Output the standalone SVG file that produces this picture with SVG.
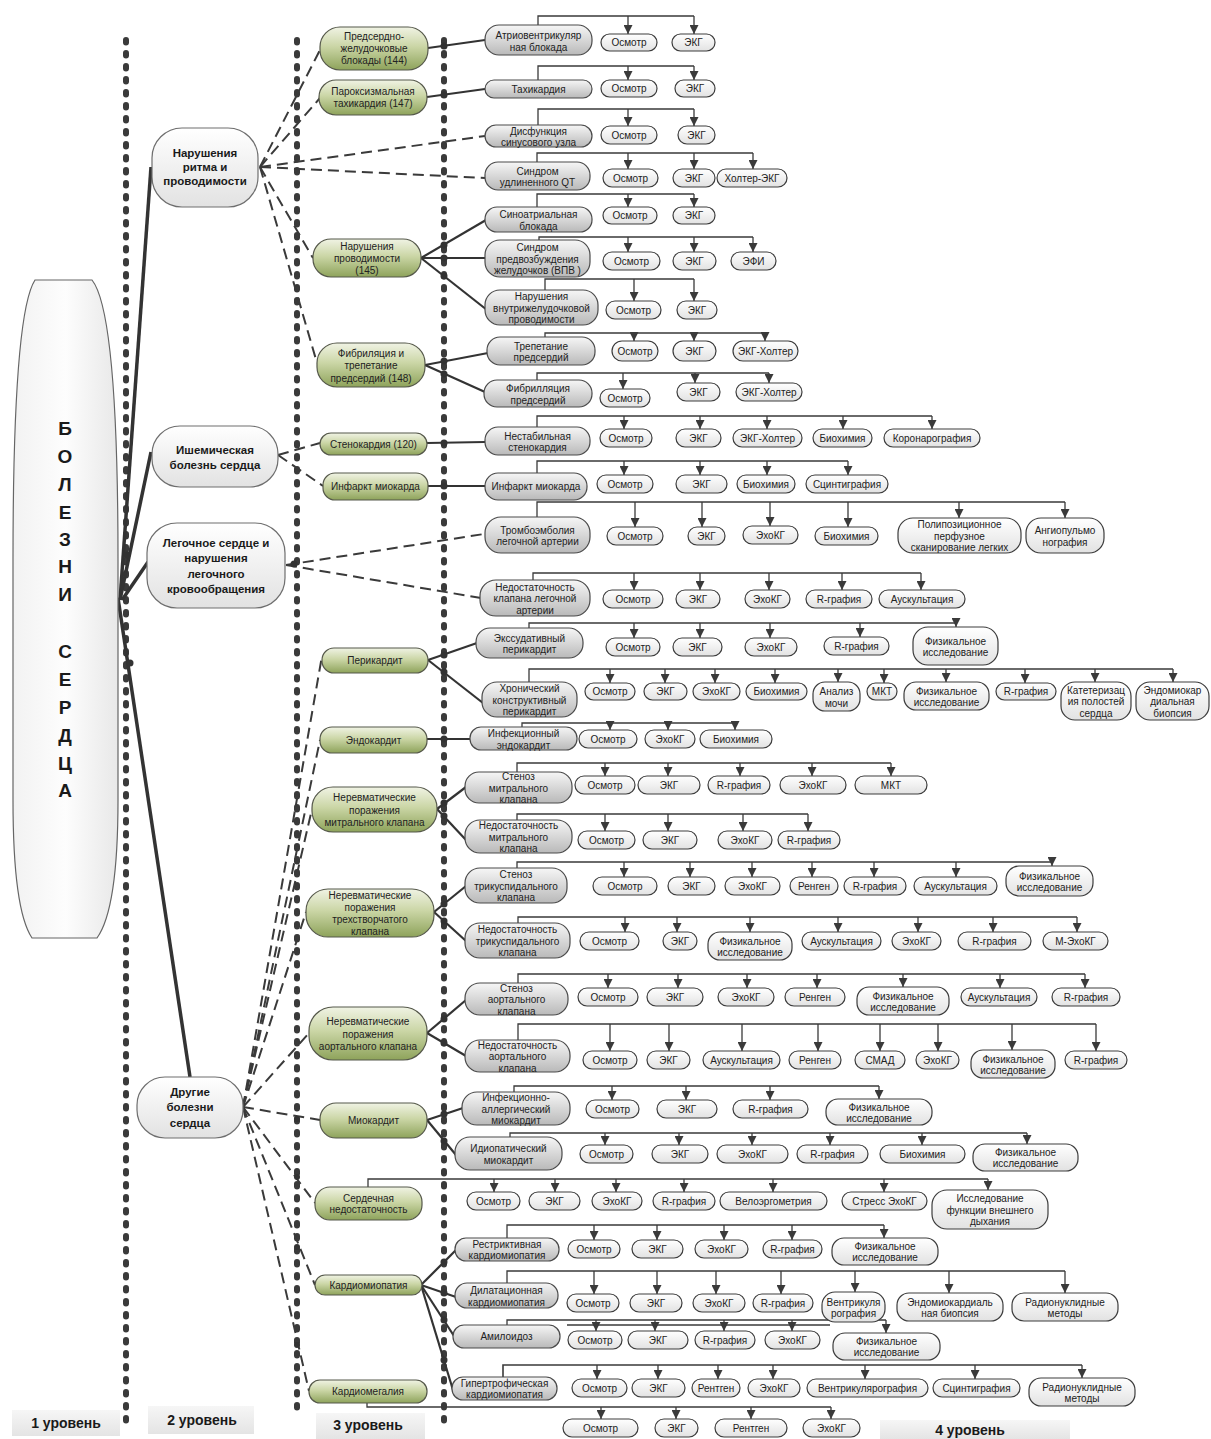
<svg xmlns="http://www.w3.org/2000/svg" width="1211" height="1439" viewBox="0 0 1211 1439">
<style>
.s{font-family:"Liberation Sans",Arial,sans-serif;font-size:10px;fill:#222;text-anchor:middle;dominant-baseline:central}
.b{font-weight:bold;font-size:11.5px;fill:#1a1a1a}
.lv{font-weight:bold;font-size:14px;fill:#1a1a1a}
.big{font-weight:bold;font-size:19px;fill:#1a1a1a}
.t{fill:url(#gTest);stroke:#3c3c3c;stroke-width:1.2}
.d{fill:url(#gDz);stroke:#4a4a4a;stroke-width:1.2}
.g{fill:url(#gL3);stroke:#55584a;stroke-width:1.2}
.w{fill:url(#gL2);stroke:#6e6e6e;stroke-width:1.2}
.lb{fill:url(#gLbl);stroke:none}
.br{fill:none;stroke:#3a3a3a;stroke-width:1.3}
.ar{fill:none;stroke:#3a3a3a;stroke-width:1.3;marker-end:url(#arr)}
.sl{fill:none;stroke:#333;stroke-width:2.2}
.dl{fill:none;stroke:#3a3a3a;stroke-width:2;stroke-dasharray:11 6}
.th{fill:none;stroke:#333;stroke-width:3.5}
.dot{fill:#333}
.vd{fill:none;stroke:#3a3a3a;stroke-width:6;stroke-linecap:round;stroke-dasharray:2.5 10.5}
</style>
<defs>
<linearGradient id="gTest" x1="0" y1="0" x2="0" y2="1"><stop offset="0" stop-color="#ffffff"/><stop offset="1" stop-color="#e2e2e2"/></linearGradient>
<linearGradient id="gDz" x1="0" y1="0" x2="0" y2="1"><stop offset="0" stop-color="#f6f6f6"/><stop offset="1" stop-color="#b9b9b9"/></linearGradient>
<linearGradient id="gL3" x1="0" y1="0" x2="0" y2="1"><stop offset="0" stop-color="#f0f3e4"/><stop offset="0.45" stop-color="#cbd6a6"/><stop offset="1" stop-color="#8ea35b"/></linearGradient>
<linearGradient id="gL2" x1="0" y1="0" x2="0" y2="1"><stop offset="0" stop-color="#ffffff"/><stop offset="1" stop-color="#e2e2e2"/></linearGradient>
<linearGradient id="gL1" x1="0" y1="0" x2="1" y2="0"><stop offset="0" stop-color="#f2f2f2"/><stop offset="0.5" stop-color="#fdfdfd"/><stop offset="1" stop-color="#e8e8e8"/></linearGradient>
<linearGradient id="gLbl" x1="0" y1="0" x2="0" y2="1"><stop offset="0" stop-color="#f6f6f6"/><stop offset="1" stop-color="#e4e4e4"/></linearGradient>
<marker id="arr" markerUnits="userSpaceOnUse" markerWidth="10" markerHeight="9" refX="9" refY="4.5" orient="auto"><path d="M0,0 L9,4.5 L0,9 z" fill="#3a3a3a"/></marker>
</defs>
<rect width="1211" height="1439" fill="#fff"/>

<!-- level separators -->
<g id="guides">
<path class="vd" d="M126 40V1430"/>
<path class="vd" d="M297 40V1418"/>
<path class="vd" d="M444 40V1430"/>
</g>

<!-- level captions -->
<g id="cap1"><rect class="lb" x="12" y="1410" width="108" height="26"/><text class="s lv" x="66" y="1423">1 уровень</text></g>
<g id="cap2"><rect class="lb" x="148" y="1406" width="106" height="28"/><text class="s lv" x="202" y="1420">2 уровень</text></g>
<g id="cap3"><rect class="lb" x="316" y="1413" width="109" height="26"/><text class="s lv" x="368" y="1425">3 уровень</text></g>
<g id="cap4"><rect class="lb" x="880" y="1420" width="190" height="19"/><text class="s lv" x="970" y="1430">4 уровень</text></g>

<g id="connectors">
<!-- level 1 to level 2 -->
<path class="th" d="M120 600L151 167"/>
<path class="th" d="M120 600L151 452"/>
<path class="th" d="M122 600L148 562"/>
<path class="th" d="M118 598L190 1077"/>
<circle class="dot" cx="127" cy="555" r="3.5"/>
<circle class="dot" cx="130" cy="663" r="3.5"/>
<!-- level 2 to level 3 -->
<path class="dl" d="M260 167L320 50"/>
<path class="dl" d="M260 167L320 98"/>
<path class="dl" d="M260 167L485 136"/>
<path class="dl" d="M260 167L485 178"/>
<path class="dl" d="M260 167L313 258"/>
<path class="dl" d="M260 167L317 363"/>
<path class="dl" d="M278 455L320 443"/>
<path class="dl" d="M278 455L323 486"/>
<path class="dl" d="M286 565L484 534"/>
<path class="dl" d="M286 565L481 598"/>
<circle class="dot" cx="294" cy="564" r="3.5"/>
<path class="dl" d="M243 1107L322 656"/>
<path class="dl" d="M243 1107L320 740"/>
<path class="dl" d="M243 1107L312 809"/>
<path class="dl" d="M243 1107L306 912"/>
<path class="dl" d="M243 1107L309 1033"/>
<path class="dl" d="M243 1107L320 1120"/>
<path class="dl" d="M243 1107L315 1203"/>
<path class="dl" d="M243 1107L315 1285"/>
<path class="dl" d="M243 1107L309 1391"/>
<circle class="dot" cx="297" cy="1119" r="3"/>
<circle class="dot" cx="297" cy="1177" r="3"/>
<circle class="dot" cx="297" cy="1247" r="3"/>
<circle class="dot" cx="297" cy="1345" r="3"/>
<!-- level 3 to diseases -->
<path class="sl" d="M428 48L485 40"/><circle class="dot" cx="444" cy="46" r="3.5"/>
<path class="sl" d="M427 97L485 89"/><circle class="dot" cx="444" cy="95" r="3.5"/>
<path class="sl" d="M421 258L486 220"/><circle class="dot" cx="444" cy="245" r="3.5"/>
<path class="sl" d="M421 258L485 258"/><circle class="dot" cx="444" cy="258" r="3.5"/>
<path class="sl" d="M421 258L487 310"/><circle class="dot" cx="444" cy="276" r="3.5"/>
<path class="sl" d="M425 365L488 353"/><circle class="dot" cx="444" cy="361" r="3.5"/>
<path class="sl" d="M425 365L485 392"/><circle class="dot" cx="444" cy="374" r="3.5"/>
<path class="sl" d="M427 443L485 442"/><circle class="dot" cx="444" cy="443" r="3.5"/>
<path class="sl" d="M428 486L485 486"/><circle class="dot" cx="444" cy="486" r="3.5"/>
<path class="sl" d="M428 660L477 643"/><circle class="dot" cx="444" cy="655" r="3.5"/>
<path class="sl" d="M428 660L483 703"/><circle class="dot" cx="444" cy="672" r="3.5"/>
<path class="sl" d="M427 739L470 739"/><circle class="dot" cx="444" cy="739" r="3.5"/>
<path class="sl" d="M437 809L466 787"/><circle class="dot" cx="444" cy="803" r="3.5"/>
<path class="sl" d="M437 809L466 840"/><circle class="dot" cx="444" cy="816" r="3.5"/>
<path class="sl" d="M434 912L466 886"/><circle class="dot" cx="444" cy="904" r="3.5"/>
<path class="sl" d="M434 912L466 941"/><circle class="dot" cx="444" cy="921" r="3.5"/>
<path class="sl" d="M427 1033L466 1000"/><circle class="dot" cx="444" cy="1019" r="3.5"/>
<path class="sl" d="M427 1033L466 1056"/><circle class="dot" cx="444" cy="1043" r="3.5"/>
<path class="sl" d="M427 1120L463 1108"/><circle class="dot" cx="444" cy="1114" r="3.5"/>
<path class="sl" d="M427 1120L456 1155"/><circle class="dot" cx="444" cy="1141" r="3.5"/>
<path class="sl" d="M421 1285L456 1250"/><circle class="dot" cx="444" cy="1262" r="3.5"/>
<path class="sl" d="M421 1285L456 1297"/><circle class="dot" cx="444" cy="1293" r="3.5"/>
<path class="sl" d="M421 1285L454 1336"/><circle class="dot" cx="444" cy="1320" r="3.5"/>
<path class="sl" d="M421 1285L453 1390"/><circle class="dot" cx="444" cy="1360" r="3.5"/>
<!-- diseases to examinations -->
<path class="br" d="M538 25V16H694"/><path class="ar" d="M628 16V34"/><path class="ar" d="M694 16V34"/>
<path class="br" d="M538 80V66H694"/><path class="ar" d="M628 66V80"/><path class="ar" d="M694 66V80"/>
<path class="br" d="M538 125V109H694"/><path class="ar" d="M628 109V126"/><path class="ar" d="M694 109V126"/>
<path class="br" d="M537 162V153H753"/><path class="ar" d="M628 153V169"/><path class="ar" d="M694 153V169"/><path class="ar" d="M753 153V169"/>
<path class="br" d="M537 207V194H694"/><path class="ar" d="M628 194V207"/><path class="ar" d="M694 194V207"/>
<path class="br" d="M539 240V237H753"/><path class="ar" d="M628 237V252"/><path class="ar" d="M694 237V252"/><path class="ar" d="M753 237V252"/>
<path class="br" d="M545 290V279H694"/><path class="ar" d="M634 279V301"/><path class="ar" d="M694 279V301"/>
<path class="br" d="M545 337V333H765"/><path class="ar" d="M634 333V341"/><path class="ar" d="M694 333V341"/><path class="ar" d="M765 333V341"/>
<path class="br" d="M537 380V373H769"/><path class="ar" d="M623 373V389"/><path class="ar" d="M695 373V383"/><path class="ar" d="M769 373V383"/>
<path class="br" d="M537 427V416H932"/><path class="ar" d="M624 416V429"/><path class="ar" d="M700 416V429"/><path class="ar" d="M767 416V429"/><path class="ar" d="M843 416V429"/><path class="ar" d="M932 416V429"/>
<path class="br" d="M537 473V461H848"/><path class="ar" d="M624 461V475"/><path class="ar" d="M700 461V475"/><path class="ar" d="M767 461V475"/><path class="ar" d="M848 461V475"/>
<path class="br" d="M537 517V502H1065"/><path class="ar" d="M635 502V527"/><path class="ar" d="M702 502V527"/><path class="ar" d="M770 502V526"/><path class="ar" d="M848 502V527"/><path class="ar" d="M959 502V518"/><path class="ar" d="M1065 502V518"/>
<path class="br" d="M533 580V573H921"/><path class="ar" d="M634 573V590"/><path class="ar" d="M700 573V590"/><path class="ar" d="M769 573V590"/><path class="ar" d="M842 573V590"/><path class="ar" d="M921 573V590"/>
<path class="br" d="M529 628V623H956"/><path class="ar" d="M634 623V638"/><path class="ar" d="M700 623V638"/><path class="ar" d="M770 623V638"/><path class="ar" d="M860 623V637"/><path class="ar" d="M956 623V627"/>
<path class="br" d="M529 682V669H1173"/><path class="ar" d="M610 669V683"/><path class="ar" d="M665 669V683"/><path class="ar" d="M715 669V683"/><path class="ar" d="M775 669V683"/><path class="ar" d="M838 669V682"/><path class="ar" d="M884 669V683"/><path class="ar" d="M946 669V682"/><path class="ar" d="M1025 669V683"/><path class="ar" d="M1095 669V682"/><path class="ar" d="M1173 669V682"/>
<path class="br" d="M522 727V723H735"/><path class="ar" d="M610 723V730"/><path class="ar" d="M668 723V730"/><path class="ar" d="M735 723V730"/>
<path class="br" d="M517 772V763H891"/><path class="ar" d="M605 763V776"/><path class="ar" d="M668 763V776"/><path class="ar" d="M740 763V776"/><path class="ar" d="M812 763V776"/><path class="ar" d="M891 763V776"/>
<path class="br" d="M517 820V814H808"/><path class="ar" d="M605 814V831"/><path class="ar" d="M668 814V831"/><path class="ar" d="M743 814V831"/><path class="ar" d="M808 814V831"/>
<path class="br" d="M517 868V862H1052"/><path class="ar" d="M624 862V877"/><path class="ar" d="M690 862V877"/><path class="ar" d="M752 862V877"/><path class="ar" d="M812 862V877"/><path class="ar" d="M874 862V877"/><path class="ar" d="M956 862V877"/><path class="ar" d="M1052 862V866"/>
<path class="br" d="M518 923V917H1077"/><path class="ar" d="M625 917V932"/><path class="ar" d="M677 917V932"/><path class="ar" d="M750 917V932"/><path class="ar" d="M838 917V932"/><path class="ar" d="M918 917V932"/><path class="ar" d="M993 917V932"/><path class="ar" d="M1077 917V932"/>
<path class="br" d="M518 983V974H1085"/><path class="ar" d="M608 974V988"/><path class="ar" d="M678 974V988"/><path class="ar" d="M747 974V988"/><path class="ar" d="M817 974V988"/><path class="ar" d="M903 974V987"/><path class="ar" d="M1000 974V988"/><path class="ar" d="M1085 974V988"/>
<path class="br" d="M518 1040V1024H1096"/><path class="ar" d="M610 1024V1051"/><path class="ar" d="M669 1024V1051"/><path class="ar" d="M742 1024V1051"/><path class="ar" d="M818 1024V1051"/><path class="ar" d="M880 1024V1051"/><path class="ar" d="M938 1024V1051"/><path class="ar" d="M1012 1024V1050"/><path class="ar" d="M1096 1024V1051"/>
<path class="br" d="M514 1092V1086H879"/><path class="ar" d="M612 1086V1100"/><path class="ar" d="M686 1086V1100"/><path class="ar" d="M770 1086V1100"/><path class="ar" d="M879 1086V1099"/>
<path class="br" d="M510 1137V1133H1027"/><path class="ar" d="M605 1133V1145"/><path class="ar" d="M679 1133V1145"/><path class="ar" d="M752 1133V1145"/><path class="ar" d="M830 1133V1145"/><path class="ar" d="M922 1133V1145"/><path class="ar" d="M1027 1133V1144"/>
<path class="br" d="M368 1187V1179H988"/><path class="ar" d="M494 1179V1192"/><path class="ar" d="M555 1179V1192"/><path class="ar" d="M616 1179V1192"/><path class="ar" d="M684 1179V1192"/><path class="ar" d="M773 1179V1192"/><path class="ar" d="M884 1179V1192"/><path class="ar" d="M988 1179V1190"/>
<path class="br" d="M507 1238V1225H884"/><path class="ar" d="M594 1225V1240"/><path class="ar" d="M657 1225V1240"/><path class="ar" d="M724 1225V1240"/><path class="ar" d="M792 1225V1240"/><path class="ar" d="M884 1225V1238"/>
<path class="br" d="M507 1283V1271H1065"/><path class="ar" d="M594 1271V1294"/><path class="ar" d="M657 1271V1294"/><path class="ar" d="M716 1271V1294"/><path class="ar" d="M781 1271V1294"/><path class="ar" d="M855 1271V1292"/><path class="ar" d="M949 1271V1293"/><path class="ar" d="M1065 1271V1293"/>
<path class="br" d="M507 1325V1320H886"/><path class="br" d="M567 1325H830"/><path class="ar" d="M596 1320V1331"/><path class="ar" d="M655 1320V1331"/><path class="ar" d="M724 1320V1331"/><path class="ar" d="M792 1320V1331"/><path class="ar" d="M886 1320V1333"/>
<path class="br" d="M503 1377V1365H1082" style="stroke-width:1.6"/><path class="ar" d="M597 1365V1379"/><path class="ar" d="M658 1365V1379"/><path class="ar" d="M718 1365V1379"/><path class="ar" d="M773 1365V1379"/><path class="ar" d="M865 1365V1379"/><path class="ar" d="M975 1365V1379"/><path class="ar" d="M1082 1365V1378"/>
<path class="br" d="M367 1403V1407H831"/><path class="ar" d="M601 1407V1419"/><path class="ar" d="M676 1407V1419"/><path class="ar" d="M751 1407V1419"/><path class="ar" d="M831 1407V1419"/>
</g>

<!-- level 1 -->
<g id="l1-heart-diseases">
<path d="M35 280H92C108 300 118 380 118 560V800C118 880 110 920 97 938H32C20 920 13 880 13 800V560C13 380 22 300 35 280Z" fill="url(#gL1)" stroke="#666" stroke-width="1.2"/>
<text class="s big" x="65"><tspan x="65" y="428">Б</tspan><tspan x="65" y="456">О</tspan><tspan x="65" y="484">Л</tspan><tspan x="65" y="512">Е</tspan><tspan x="65" y="539">З</tspan><tspan x="65" y="566">Н</tspan><tspan x="65" y="594">И</tspan><tspan x="65" y="651">С</tspan><tspan x="65" y="679">Е</tspan><tspan x="65" y="707">Р</tspan><tspan x="65" y="735">Д</tspan><tspan x="65" y="763">Ц</tspan><tspan x="65" y="790">А</tspan></text>
</g>

<!-- level 2 -->
<g id="l2-rhythm"><rect class="w" x="152" y="128" width="106" height="79" rx="30"/><text class="s b"><tspan x="205" y="153">Нарушения</tspan><tspan x="205" y="167">ритма и</tspan><tspan x="205" y="181">проводимости</tspan></text></g>
<g id="l2-ischemic"><rect class="w" x="152" y="426" width="126" height="61" rx="28"/><text class="s b"><tspan x="215" y="450">Ишемическая</tspan><tspan x="215" y="465">болезнь сердца</tspan></text></g>
<g id="l2-pulmonary"><rect class="w" x="147" y="523" width="138" height="85" rx="30"/><text class="s b"><tspan x="216" y="542.5">Легочное сердце и</tspan><tspan x="216" y="558">нарушения</tspan><tspan x="216" y="573.5">легочного</tspan><tspan x="216" y="589">кровообращения</tspan></text></g>
<g id="l2-other"><rect class="w" x="137" y="1077" width="106" height="61" rx="28"/><text class="s b"><tspan x="190" y="1092">Другие</tspan><tspan x="190" y="1107">болезни</tspan><tspan x="190" y="1123">сердца</tspan></text></g>

<!-- level 3 -->
<g id="l3-av-block"><rect class="g" x="320" y="27" width="108" height="43" rx="20"/><text class="s"><tspan x="374" y="36">Предсердно-</tspan><tspan x="374" y="48">желудочковые</tspan><tspan x="374" y="60">блокады (144)</tspan></text></g>
<g id="l3-paroxysmal"><rect class="g" x="319" y="80" width="108" height="35" rx="17"/><text class="s"><tspan x="373" y="91">Пароксизмальная</tspan><tspan x="373" y="103">тахикардия (147)</tspan></text></g>
<g id="l3-conduction"><rect class="g" x="313" y="239" width="108" height="38" rx="18"/><text class="s"><tspan x="367" y="246">Нарушения</tspan><tspan x="367" y="258">проводимости</tspan><tspan x="367" y="270">(145)</tspan></text></g>
<g id="l3-fibrillation"><rect class="g" x="317" y="343" width="108" height="44" rx="20"/><text class="s"><tspan x="371" y="352.5">Фибриляция и</tspan><tspan x="371" y="365">трепетание</tspan><tspan x="371" y="377.5">предсердий (148)</tspan></text></g>
<g id="l3-angina"><rect class="g" x="320" y="433" width="107" height="22" rx="11"/><text class="s" x="373.5" y="444">Стенокардия (120)</text></g>
<g id="l3-infarction"><rect class="g" x="323" y="473" width="105" height="27" rx="12"/><text class="s" x="375.5" y="486.5">Инфаркт миокарда</text></g>
<g id="l3-pericarditis"><rect class="g" x="322" y="648" width="106" height="25" rx="12"/><text class="s" x="375" y="660.5">Перикардит</text></g>
<g id="l3-endocarditis"><rect class="g" x="320" y="727" width="107" height="26" rx="12"/><text class="s" x="373.5" y="740">Эндокардит</text></g>
<g id="l3-mitral"><rect class="g" x="312" y="787" width="125" height="45" rx="21"/><text class="s"><tspan x="374.5" y="797">Неревматические</tspan><tspan x="374.5" y="809.5">поражения</tspan><tspan x="374.5" y="822">митрального клапана</tspan></text></g>
<g id="l3-tricuspid"><rect class="g" x="306" y="889" width="128" height="48" rx="22"/><text class="s"><tspan x="370" y="894.5">Неревматические</tspan><tspan x="370" y="906.5">поражения</tspan><tspan x="370" y="918.5">трехстворчатого</tspan><tspan x="370" y="930.5">клапана</tspan></text></g>
<g id="l3-aortic"><rect class="g" x="309" y="1007" width="118" height="53" rx="24"/><text class="s"><tspan x="368" y="1021">Неревматические</tspan><tspan x="368" y="1033.5">поражения</tspan><tspan x="368" y="1046">аортального клапана</tspan></text></g>
<g id="l3-myocarditis"><rect class="g" x="320" y="1103" width="107" height="35" rx="16"/><text class="s" x="373.5" y="1120.5">Миокардит</text></g>
<g id="l3-heart-failure"><rect class="g" x="315" y="1187" width="107" height="33" rx="15"/><text class="s"><tspan x="368.5" y="1197.5">Сердечная</tspan><tspan x="368.5" y="1209">недостаточность</tspan></text></g>
<g id="l3-cardiomyopathy"><rect class="g" x="315" y="1275" width="107" height="20" rx="10"/><text class="s" x="368.5" y="1285">Кардиомиопатия</text></g>
<g id="l3-cardiomegaly"><rect class="g" x="309" y="1380" width="118" height="23" rx="11"/><text class="s" x="368" y="1391.5">Кардиомегалия</text></g>

<!-- diseases -->
<g id="d01"><rect class="d" x="485" y="25" width="107" height="30" rx="14"/><text class="s"><tspan x="538.5" y="34.5">Атриовентрикуляр</tspan><tspan x="538.5" y="46.5">ная блокада</tspan></text></g>
<g id="d02"><rect class="d" x="485" y="80" width="107" height="18" rx="9"/><text class="s" x="538.5" y="89">Тахикардия</text></g>
<g id="d03"><rect class="d" x="485" y="125" width="107" height="22" rx="11"/><text class="s"><tspan x="538.5" y="130.5">Дисфункция</tspan><tspan x="538.5" y="141.5">синусового узла</tspan></text></g>
<g id="d04"><rect class="d" x="485" y="162" width="105" height="28" rx="13"/><text class="s"><tspan x="537.5" y="170.5">Синдром</tspan><tspan x="537.5" y="182">удлиненного QT</tspan></text></g>
<g id="d05"><rect class="d" x="485" y="207" width="107" height="25" rx="12"/><text class="s"><tspan x="538.5" y="214">Синоатриальная</tspan><tspan x="538.5" y="225.5">блокада</tspan></text></g>
<g id="d06"><rect class="d" x="485" y="240" width="105" height="37" rx="15"/><text class="s"><tspan x="537.5" y="247">Синдром</tspan><tspan x="537.5" y="258.5">предвозбуждения</tspan><tspan x="537.5" y="270">желудочков (ВПВ )</tspan></text></g>
<g id="d07"><rect class="d" x="485" y="290" width="113" height="35" rx="15"/><text class="s"><tspan x="541.5" y="296">Нарушения</tspan><tspan x="541.5" y="307.5">внутрижелудочковой</tspan><tspan x="541.5" y="319">проводимости</tspan></text></g>
<g id="d08"><rect class="d" x="487" y="337" width="108" height="28" rx="13"/><text class="s"><tspan x="541" y="345.5">Трепетание</tspan><tspan x="541" y="357">предсердий</tspan></text></g>
<g id="d09"><rect class="d" x="484" y="380" width="108" height="27" rx="13"/><text class="s"><tspan x="538" y="388">Фибрилляция</tspan><tspan x="538" y="399.5">предсердий</tspan></text></g>
<g id="d10"><rect class="d" x="485" y="427" width="105" height="28" rx="13"/><text class="s"><tspan x="537.5" y="435.5">Нестабильная</tspan><tspan x="537.5" y="447">стенокардия</tspan></text></g>
<g id="d11"><rect class="d" x="485" y="473" width="102" height="27" rx="13"/><text class="s" x="536" y="486.5">Инфаркт миокарда</text></g>
<g id="d12"><rect class="d" x="485" y="517" width="105" height="36" rx="16"/><text class="s"><tspan x="537.5" y="529.5">Тромбоэмболия</tspan><tspan x="537.5" y="541">легочной артерии</tspan></text></g>
<g id="d13"><rect class="d" x="480" y="580" width="110" height="36" rx="16"/><text class="s"><tspan x="535" y="586.5">Недостаточность</tspan><tspan x="535" y="598">клапана легочной</tspan><tspan x="535" y="609.5">артерии</tspan></text></g>
<g id="d14"><rect class="d" x="476" y="628" width="107" height="30" rx="14"/><text class="s"><tspan x="529.5" y="637.5">Экссудативный</tspan><tspan x="529.5" y="649">перикардит</tspan></text></g>
<g id="d15"><rect class="d" x="482" y="682" width="95" height="35" rx="15"/><text class="s"><tspan x="529.5" y="688">Хронический</tspan><tspan x="529.5" y="699.5">конструктивный</tspan><tspan x="529.5" y="711">перикардит</tspan></text></g>
<g id="d16"><rect class="d" x="470" y="727" width="107" height="23" rx="11"/><text class="s"><tspan x="523.5" y="733">Инфекционный</tspan><tspan x="523.5" y="744.5">эндокардит</tspan></text></g>
<g id="d17"><rect class="d" x="465" y="772" width="107" height="31" rx="14"/><text class="s"><tspan x="518.5" y="776">Стеноз</tspan><tspan x="518.5" y="787.5">митрального</tspan><tspan x="518.5" y="799">клапана</tspan></text></g>
<g id="d18"><rect class="d" x="465" y="820" width="107" height="33" rx="15"/><text class="s"><tspan x="518.5" y="825">Недостаточность</tspan><tspan x="518.5" y="836.5">митрального</tspan><tspan x="518.5" y="848">клапана</tspan></text></g>
<g id="d19"><rect class="d" x="465" y="868" width="102" height="35" rx="15"/><text class="s"><tspan x="516" y="874">Стеноз</tspan><tspan x="516" y="885.5">трикуспидального</tspan><tspan x="516" y="897">клапана</tspan></text></g>
<g id="d20"><rect class="d" x="465" y="923" width="105" height="35" rx="15"/><text class="s"><tspan x="517.5" y="929">Недостаточность</tspan><tspan x="517.5" y="940.5">трикуспидального</tspan><tspan x="517.5" y="952">клапана</tspan></text></g>
<g id="d21"><rect class="d" x="465" y="983" width="103" height="32" rx="15"/><text class="s"><tspan x="516.5" y="987.5">Стеноз</tspan><tspan x="516.5" y="999">аортального</tspan><tspan x="516.5" y="1010.5">клапана</tspan></text></g>
<g id="d22"><rect class="d" x="465" y="1040" width="105" height="32" rx="15"/><text class="s"><tspan x="517.5" y="1044.5">Недостаточность</tspan><tspan x="517.5" y="1056">аортального</tspan><tspan x="517.5" y="1067.5">клапана</tspan></text></g>
<g id="d23"><rect class="d" x="462" y="1092" width="108" height="33" rx="15"/><text class="s"><tspan x="516" y="1097">Инфекционно-</tspan><tspan x="516" y="1108.5">аллергический</tspan><tspan x="516" y="1120">миокардит</tspan></text></g>
<g id="d24"><rect class="d" x="455" y="1137" width="107" height="33" rx="15"/><text class="s"><tspan x="508.5" y="1148">Идиопатический</tspan><tspan x="508.5" y="1159.5">миокардит</tspan></text></g>
<g id="d26"><rect class="d" x="455" y="1238" width="104" height="23" rx="11"/><text class="s"><tspan x="507" y="1244">Рестриктивная</tspan><tspan x="507" y="1255">кардиомиопатия</tspan></text></g>
<g id="d27"><rect class="d" x="455" y="1283" width="103" height="25" rx="12"/><text class="s"><tspan x="506.5" y="1290">Дилатационная</tspan><tspan x="506.5" y="1301.5">кардиомиопатия</tspan></text></g>
<g id="d28"><rect class="d" x="453" y="1325" width="107" height="23" rx="11"/><text class="s" x="506.5" y="1336.5">Амилоидоз</text></g>
<g id="d29"><rect class="d" x="452" y="1377" width="105" height="23" rx="11"/><text class="s"><tspan x="504.5" y="1383">Гипертрофическая</tspan><tspan x="504.5" y="1394">кардиомиопатия</tspan></text></g>

<!-- examinations -->
<g id="t01-1"><rect class="t" x="601" y="34" width="56" height="17" rx="8.5"/><text class="s" x="629" y="42.5">Осмотр</text></g>
<g id="t01-2"><rect class="t" x="672" y="34" width="43" height="17" rx="8.5"/><text class="s" x="693.5" y="42.5">ЭКГ</text></g>
<g id="t02-1"><rect class="t" x="601" y="80" width="56" height="17" rx="8.5"/><text class="s" x="629" y="88.5">Осмотр</text></g>
<g id="t02-2"><rect class="t" x="675" y="80" width="40" height="17" rx="8.5"/><text class="s" x="695" y="88.5">ЭКГ</text></g>
<g id="t03-1"><rect class="t" x="601" y="126" width="56" height="18" rx="9"/><text class="s" x="629" y="135">Осмотр</text></g>
<g id="t03-2"><rect class="t" x="678" y="126" width="37" height="18" rx="9"/><text class="s" x="696.5" y="135">ЭКГ</text></g>
<g id="t04-1"><rect class="t" x="603" y="169" width="55" height="18" rx="9"/><text class="s" x="630.5" y="178">Осмотр</text></g>
<g id="t04-2"><rect class="t" x="673" y="169" width="42" height="18" rx="9"/><text class="s" x="694" y="178">ЭКГ</text></g>
<g id="t04-3"><rect class="t" x="717" y="169" width="70" height="18" rx="9"/><text class="s" x="752" y="178">Холтер-ЭКГ</text></g>
<g id="t05-1"><rect class="t" x="603" y="207" width="54" height="17" rx="8.5"/><text class="s" x="630" y="215.5">Осмотр</text></g>
<g id="t05-2"><rect class="t" x="673" y="207" width="42" height="17" rx="8.5"/><text class="s" x="694" y="215.5">ЭКГ</text></g>
<g id="t06-1"><rect class="t" x="603" y="252" width="57" height="18" rx="9"/><text class="s" x="631.5" y="261">Осмотр</text></g>
<g id="t06-2"><rect class="t" x="673" y="252" width="43" height="18" rx="9"/><text class="s" x="694.5" y="261">ЭКГ</text></g>
<g id="t06-3"><rect class="t" x="731" y="252" width="45" height="18" rx="9"/><text class="s" x="753.5" y="261">ЭФИ</text></g>
<g id="t07-1"><rect class="t" x="606" y="301" width="55" height="18" rx="9"/><text class="s" x="633.5" y="310">Осмотр</text></g>
<g id="t07-2"><rect class="t" x="677" y="301" width="40" height="18" rx="9"/><text class="s" x="697" y="310">ЭКГ</text></g>
<g id="t08-1"><rect class="t" x="612" y="341" width="46" height="20" rx="10"/><text class="s" x="635" y="351">Осмотр</text></g>
<g id="t08-2"><rect class="t" x="673" y="341" width="43" height="20" rx="10"/><text class="s" x="694.5" y="351">ЭКГ</text></g>
<g id="t08-3"><rect class="t" x="733" y="341" width="65" height="20" rx="10"/><text class="s" x="765.5" y="351">ЭКГ-Холтер</text></g>
<g id="t09-1"><rect class="t" x="600" y="389" width="50" height="18" rx="9"/><text class="s" x="625" y="398">Осмотр</text></g>
<g id="t09-2"><rect class="t" x="677" y="383" width="43" height="18" rx="9"/><text class="s" x="698.5" y="392">ЭКГ</text></g>
<g id="t09-3"><rect class="t" x="736" y="383" width="66" height="18" rx="9"/><text class="s" x="769" y="392">ЭКГ-Холтер</text></g>
<g id="t10-1"><rect class="t" x="600" y="429" width="52" height="18" rx="9"/><text class="s" x="626" y="438">Осмотр</text></g>
<g id="t10-2"><rect class="t" x="676" y="429" width="45" height="18" rx="9"/><text class="s" x="698.5" y="438">ЭКГ</text></g>
<g id="t10-3"><rect class="t" x="733" y="429" width="69" height="18" rx="9"/><text class="s" x="767.5" y="438">ЭКГ-Холтер</text></g>
<g id="t10-4"><rect class="t" x="813" y="429" width="59" height="18" rx="9"/><text class="s" x="842.5" y="438">Биохимия</text></g>
<g id="t10-5"><rect class="t" x="884" y="429" width="96" height="18" rx="9"/><text class="s" x="932" y="438">Коронарография</text></g>
<g id="t11-1"><rect class="t" x="597" y="475" width="56" height="18" rx="9"/><text class="s" x="625" y="484">Осмотр</text></g>
<g id="t11-2"><rect class="t" x="676" y="475" width="51" height="18" rx="9"/><text class="s" x="701.5" y="484">ЭКГ</text></g>
<g id="t11-3"><rect class="t" x="737" y="475" width="58" height="18" rx="9"/><text class="s" x="766" y="484">Биохимия</text></g>
<g id="t11-4"><rect class="t" x="806" y="475" width="82" height="18" rx="9"/><text class="s" x="847" y="484">Сцинтиграфия</text></g>
<g id="t12-1"><rect class="t" x="607" y="527" width="56" height="18" rx="9"/><text class="s" x="635" y="536">Осмотр</text></g>
<g id="t12-2"><rect class="t" x="688" y="527" width="37" height="18" rx="9"/><text class="s" x="706.5" y="536">ЭКГ</text></g>
<g id="t12-3"><rect class="t" x="743" y="526" width="55" height="18" rx="9"/><text class="s" x="770.5" y="535">ЭхоКГ</text></g>
<g id="t12-4"><rect class="t" x="815" y="527" width="63" height="18" rx="9"/><text class="s" x="846.5" y="536">Биохимия</text></g>
<g id="t12-5"><rect class="t" x="898" y="518" width="123" height="35" rx="15"/><text class="s"><tspan x="959.5" y="524">Полипозиционное</tspan><tspan x="959.5" y="535.5">перфузное</tspan><tspan x="959.5" y="547">сканирование легких</tspan></text></g>
<g id="t12-6"><rect class="t" x="1026" y="518" width="78" height="35" rx="15"/><text class="s"><tspan x="1065" y="530">Ангиопульмо</tspan><tspan x="1065" y="541.5">нография</tspan></text></g>
<g id="t13-1"><rect class="t" x="603" y="590" width="60" height="18" rx="9"/><text class="s" x="633" y="599">Осмотр</text></g>
<g id="t13-2"><rect class="t" x="676" y="590" width="44" height="18" rx="9"/><text class="s" x="698" y="599">ЭКГ</text></g>
<g id="t13-3"><rect class="t" x="745" y="590" width="45" height="18" rx="9"/><text class="s" x="767.5" y="599">ЭхоКГ</text></g>
<g id="t13-4"><rect class="t" x="806" y="590" width="66" height="18" rx="9"/><text class="s" x="839" y="599">R-графия</text></g>
<g id="t13-5"><rect class="t" x="879" y="590" width="86" height="18" rx="9"/><text class="s" x="922" y="599">Аускультация</text></g>
<g id="t14-1"><rect class="t" x="606" y="638" width="54" height="18" rx="9"/><text class="s" x="633" y="647">Осмотр</text></g>
<g id="t14-2"><rect class="t" x="673" y="638" width="49" height="18" rx="9"/><text class="s" x="697.5" y="647">ЭКГ</text></g>
<g id="t14-3"><rect class="t" x="745" y="638" width="52" height="18" rx="9"/><text class="s" x="771" y="647">ЭхоКГ</text></g>
<g id="t14-4"><rect class="t" x="824" y="637" width="65" height="18" rx="9"/><text class="s" x="856.5" y="646">R-графия</text></g>
<g id="t14-5"><rect class="t" x="913" y="627" width="85" height="38" rx="15"/><text class="s"><tspan x="955.5" y="640.5">Физикальное</tspan><tspan x="955.5" y="651.5">исследование</tspan></text></g>
<g id="t15-1"><rect class="t" x="585" y="683" width="50" height="17" rx="8.5"/><text class="s" x="610" y="691.5">Осмотр</text></g>
<g id="t15-2"><rect class="t" x="644" y="683" width="43" height="17" rx="8.5"/><text class="s" x="665.5" y="691.5">ЭКГ</text></g>
<g id="t15-3"><rect class="t" x="693" y="683" width="47" height="17" rx="8.5"/><text class="s" x="716.5" y="691.5">ЭхоКГ</text></g>
<g id="t15-4"><rect class="t" x="746" y="683" width="61" height="17" rx="8.5"/><text class="s" x="776.5" y="691.5">Биохимия</text></g>
<g id="t15-5"><rect class="t" x="813" y="682" width="47" height="29" rx="12"/><text class="s"><tspan x="836.5" y="691">Анализ</tspan><tspan x="836.5" y="702.5">мочи</tspan></text></g>
<g id="t15-6"><rect class="t" x="867" y="683" width="30" height="17" rx="8.5"/><text class="s" x="882" y="691.5">МКТ</text></g>
<g id="t15-7"><rect class="t" x="904" y="682" width="85" height="28" rx="12"/><text class="s"><tspan x="946.5" y="690.5">Физикальное</tspan><tspan x="946.5" y="701.5">исследование</tspan></text></g>
<g id="t15-8"><rect class="t" x="996" y="683" width="60" height="17" rx="8.5"/><text class="s" x="1026" y="691.5">R-графия</text></g>
<g id="t15-9"><rect class="t" x="1061" y="682" width="70" height="38" rx="14"/><text class="s"><tspan x="1096" y="689.5">Катетеризац</tspan><tspan x="1096" y="701">ия полостей</tspan><tspan x="1096" y="712.5">сердца</tspan></text></g>
<g id="t15-10"><rect class="t" x="1136" y="682" width="73" height="38" rx="14"/><text class="s"><tspan x="1172.5" y="689.5">Эндомиокар</tspan><tspan x="1172.5" y="701">диальная</tspan><tspan x="1172.5" y="712.5">биопсия</tspan></text></g>
<g id="t16-1"><rect class="t" x="579" y="730" width="58" height="18" rx="9"/><text class="s" x="608" y="739">Осмотр</text></g>
<g id="t16-2"><rect class="t" x="645" y="730" width="50" height="18" rx="9"/><text class="s" x="670" y="739">ЭхоКГ</text></g>
<g id="t16-3"><rect class="t" x="700" y="730" width="72" height="18" rx="9"/><text class="s" x="736" y="739">Биохимия</text></g>
<g id="t17-1"><rect class="t" x="575" y="776" width="60" height="18" rx="9"/><text class="s" x="605" y="785">Осмотр</text></g>
<g id="t17-2"><rect class="t" x="638" y="776" width="62" height="18" rx="9"/><text class="s" x="669" y="785">ЭКГ</text></g>
<g id="t17-3"><rect class="t" x="708" y="776" width="62" height="18" rx="9"/><text class="s" x="739" y="785">R-графия</text></g>
<g id="t17-4"><rect class="t" x="780" y="776" width="66" height="18" rx="9"/><text class="s" x="813" y="785">ЭхоКГ</text></g>
<g id="t17-5"><rect class="t" x="855" y="776" width="72" height="18" rx="9"/><text class="s" x="891" y="785">МКТ</text></g>
<g id="t18-1"><rect class="t" x="578" y="831" width="57" height="18" rx="9"/><text class="s" x="606.5" y="840">Осмотр</text></g>
<g id="t18-2"><rect class="t" x="643" y="831" width="54" height="18" rx="9"/><text class="s" x="670" y="840">ЭКГ</text></g>
<g id="t18-3"><rect class="t" x="718" y="831" width="54" height="18" rx="9"/><text class="s" x="745" y="840">ЭхоКГ</text></g>
<g id="t18-4"><rect class="t" x="778" y="831" width="62" height="18" rx="9"/><text class="s" x="809" y="840">R-графия</text></g>
<g id="t19-1"><rect class="t" x="593" y="877" width="64" height="18" rx="9"/><text class="s" x="625" y="886">Осмотр</text></g>
<g id="t19-2"><rect class="t" x="668" y="877" width="47" height="18" rx="9"/><text class="s" x="691.5" y="886">ЭКГ</text></g>
<g id="t19-3"><rect class="t" x="725" y="877" width="55" height="18" rx="9"/><text class="s" x="752.5" y="886">ЭхоКГ</text></g>
<g id="t19-4"><rect class="t" x="790" y="877" width="48" height="18" rx="9"/><text class="s" x="814" y="886">Ренген</text></g>
<g id="t19-5"><rect class="t" x="844" y="877" width="62" height="18" rx="9"/><text class="s" x="875" y="886">R-графия</text></g>
<g id="t19-6"><rect class="t" x="914" y="877" width="83" height="18" rx="9"/><text class="s" x="955.5" y="886">Аускультация</text></g>
<g id="t19-7"><rect class="t" x="1006" y="866" width="87" height="30" rx="13"/><text class="s"><tspan x="1049.5" y="875.5">Физикальное</tspan><tspan x="1049.5" y="886.5">исследование</tspan></text></g>
<g id="t20-1"><rect class="t" x="580" y="932" width="59" height="18" rx="9"/><text class="s" x="609.5" y="941">Осмотр</text></g>
<g id="t20-2"><rect class="t" x="663" y="932" width="34" height="18" rx="9"/><text class="s" x="680" y="941">ЭКГ</text></g>
<g id="t20-3"><rect class="t" x="708" y="932" width="84" height="28" rx="12"/><text class="s"><tspan x="750" y="940.5">Физикальное</tspan><tspan x="750" y="951.5">исследование</tspan></text></g>
<g id="t20-4"><rect class="t" x="802" y="932" width="79" height="18" rx="9"/><text class="s" x="841.5" y="941">Аускультация</text></g>
<g id="t20-5"><rect class="t" x="892" y="932" width="49" height="18" rx="9"/><text class="s" x="916.5" y="941">ЭхоКГ</text></g>
<g id="t20-6"><rect class="t" x="958" y="932" width="73" height="18" rx="9"/><text class="s" x="994.5" y="941">R-графия</text></g>
<g id="t20-7"><rect class="t" x="1043" y="932" width="65" height="18" rx="9"/><text class="s" x="1075.5" y="941">М-ЭхоКГ</text></g>
<g id="t21-1"><rect class="t" x="578" y="988" width="60" height="18" rx="9"/><text class="s" x="608" y="997">Осмотр</text></g>
<g id="t21-2"><rect class="t" x="647" y="988" width="56" height="18" rx="9"/><text class="s" x="675" y="997">ЭКГ</text></g>
<g id="t21-3"><rect class="t" x="718" y="988" width="56" height="18" rx="9"/><text class="s" x="746" y="997">ЭхоКГ</text></g>
<g id="t21-4"><rect class="t" x="785" y="988" width="60" height="18" rx="9"/><text class="s" x="815" y="997">Ренген</text></g>
<g id="t21-5"><rect class="t" x="857" y="987" width="92" height="28" rx="12"/><text class="s"><tspan x="903" y="995.5">Физикальное</tspan><tspan x="903" y="1006.5">исследование</tspan></text></g>
<g id="t21-6"><rect class="t" x="961" y="988" width="76" height="18" rx="9"/><text class="s" x="999" y="997">Аускультация</text></g>
<g id="t21-7"><rect class="t" x="1052" y="988" width="68" height="18" rx="9"/><text class="s" x="1086" y="997">R-графия</text></g>
<g id="t22-1"><rect class="t" x="583" y="1051" width="54" height="18" rx="9"/><text class="s" x="610" y="1060">Осмотр</text></g>
<g id="t22-2"><rect class="t" x="647" y="1051" width="43" height="18" rx="9"/><text class="s" x="668.5" y="1060">ЭКГ</text></g>
<g id="t22-3"><rect class="t" x="703" y="1051" width="77" height="18" rx="9"/><text class="s" x="741.5" y="1060">Аускультация</text></g>
<g id="t22-4"><rect class="t" x="789" y="1051" width="52" height="18" rx="9"/><text class="s" x="815" y="1060">Ренген</text></g>
<g id="t22-5"><rect class="t" x="855" y="1051" width="50" height="18" rx="9"/><text class="s" x="880" y="1060">СМАД</text></g>
<g id="t22-6"><rect class="t" x="916" y="1051" width="43" height="18" rx="9"/><text class="s" x="937.5" y="1060">ЭхоКГ</text></g>
<g id="t22-7"><rect class="t" x="971" y="1050" width="84" height="28" rx="12"/><text class="s"><tspan x="1013" y="1058.5">Физикальное</tspan><tspan x="1013" y="1069.5">исследование</tspan></text></g>
<g id="t22-8"><rect class="t" x="1065" y="1051" width="62" height="18" rx="9"/><text class="s" x="1096" y="1060">R-графия</text></g>
<g id="t23-1"><rect class="t" x="586" y="1100" width="53" height="18" rx="9"/><text class="s" x="612.5" y="1109">Осмотр</text></g>
<g id="t23-2"><rect class="t" x="657" y="1100" width="60" height="18" rx="9"/><text class="s" x="687" y="1109">ЭКГ</text></g>
<g id="t23-3"><rect class="t" x="733" y="1100" width="75" height="18" rx="9"/><text class="s" x="770.5" y="1109">R-графия</text></g>
<g id="t23-4"><rect class="t" x="826" y="1099" width="106" height="26" rx="12"/><text class="s"><tspan x="879" y="1106.5">Физикальное</tspan><tspan x="879" y="1117.5">исследование</tspan></text></g>
<g id="t24-1"><rect class="t" x="580" y="1145" width="53" height="18" rx="9"/><text class="s" x="606.5" y="1154">Осмотр</text></g>
<g id="t24-2"><rect class="t" x="652" y="1145" width="56" height="18" rx="9"/><text class="s" x="680" y="1154">ЭКГ</text></g>
<g id="t24-3"><rect class="t" x="717" y="1145" width="71" height="18" rx="9"/><text class="s" x="752.5" y="1154">ЭхоКГ</text></g>
<g id="t24-4"><rect class="t" x="797" y="1145" width="71" height="18" rx="9"/><text class="s" x="832.5" y="1154">R-графия</text></g>
<g id="t24-5"><rect class="t" x="880" y="1145" width="85" height="18" rx="9"/><text class="s" x="922.5" y="1154">Биохимия</text></g>
<g id="t24-6"><rect class="t" x="973" y="1144" width="105" height="27" rx="12"/><text class="s"><tspan x="1025.5" y="1152">Физикальное</tspan><tspan x="1025.5" y="1163">исследование</tspan></text></g>
<g id="t25-1"><rect class="t" x="467" y="1192" width="53" height="18" rx="9"/><text class="s" x="493.5" y="1201">Осмотр</text></g>
<g id="t25-2"><rect class="t" x="529" y="1192" width="51" height="18" rx="9"/><text class="s" x="554.5" y="1201">ЭКГ</text></g>
<g id="t25-3"><rect class="t" x="592" y="1192" width="50" height="18" rx="9"/><text class="s" x="617" y="1201">ЭхоКГ</text></g>
<g id="t25-4"><rect class="t" x="653" y="1192" width="62" height="18" rx="9"/><text class="s" x="684" y="1201">R-графия</text></g>
<g id="t25-5"><rect class="t" x="720" y="1192" width="107" height="18" rx="9"/><text class="s" x="773.5" y="1201">Велоэргометрия</text></g>
<g id="t25-6"><rect class="t" x="842" y="1192" width="85" height="18" rx="9"/><text class="s" x="884.5" y="1201">Стресс ЭхоКГ</text></g>
<g id="t25-7"><rect class="t" x="932" y="1190" width="116" height="39" rx="15"/><text class="s"><tspan x="990" y="1198">Исследование</tspan><tspan x="990" y="1209.5">функции внешнего</tspan><tspan x="990" y="1221">дыхания</tspan></text></g>
<g id="t26-1"><rect class="t" x="568" y="1240" width="52" height="18" rx="9"/><text class="s" x="594" y="1249">Осмотр</text></g>
<g id="t26-2"><rect class="t" x="632" y="1240" width="51" height="18" rx="9"/><text class="s" x="657.5" y="1249">ЭКГ</text></g>
<g id="t26-3"><rect class="t" x="695" y="1240" width="53" height="18" rx="9"/><text class="s" x="721.5" y="1249">ЭхоКГ</text></g>
<g id="t26-4"><rect class="t" x="763" y="1240" width="59" height="18" rx="9"/><text class="s" x="792.5" y="1249">R-графия</text></g>
<g id="t26-5"><rect class="t" x="832" y="1238" width="106" height="27" rx="12"/><text class="s"><tspan x="885" y="1246">Физикальное</tspan><tspan x="885" y="1257">исследование</tspan></text></g>
<g id="t27-1"><rect class="t" x="567" y="1294" width="52" height="18" rx="9"/><text class="s" x="593" y="1303">Осмотр</text></g>
<g id="t27-2"><rect class="t" x="630" y="1294" width="52" height="18" rx="9"/><text class="s" x="656" y="1303">ЭКГ</text></g>
<g id="t27-3"><rect class="t" x="693" y="1294" width="52" height="18" rx="9"/><text class="s" x="719" y="1303">ЭхоКГ</text></g>
<g id="t27-4"><rect class="t" x="753" y="1294" width="60" height="18" rx="9"/><text class="s" x="783" y="1303">R-графия</text></g>
<g id="t27-5"><rect class="t" x="822" y="1292" width="63" height="30" rx="13"/><text class="s"><tspan x="853.5" y="1301.5">Вентрикуля</tspan><tspan x="853.5" y="1312.5">рография</tspan></text></g>
<g id="t27-6"><rect class="t" x="897" y="1293" width="106" height="28" rx="12"/><text class="s"><tspan x="950" y="1301.5">Эндомиокардиаль</tspan><tspan x="950" y="1312.5">ная биопсия</tspan></text></g>
<g id="t27-7"><rect class="t" x="1012" y="1293" width="106" height="28" rx="12"/><text class="s"><tspan x="1065" y="1301.5">Радионуклидные</tspan><tspan x="1065" y="1312.5">методы</tspan></text></g>
<g id="t28-1"><rect class="t" x="568" y="1331" width="54" height="18" rx="9"/><text class="s" x="595" y="1340">Осмотр</text></g>
<g id="t28-2"><rect class="t" x="628" y="1331" width="60" height="18" rx="9"/><text class="s" x="658" y="1340">ЭКГ</text></g>
<g id="t28-3"><rect class="t" x="695" y="1331" width="60" height="18" rx="9"/><text class="s" x="725" y="1340">R-графия</text></g>
<g id="t28-4"><rect class="t" x="765" y="1331" width="55" height="18" rx="9"/><text class="s" x="792.5" y="1340">ЭхоКГ</text></g>
<g id="t28-5"><rect class="t" x="833" y="1333" width="107" height="27" rx="12"/><text class="s"><tspan x="886.5" y="1341">Физикальное</tspan><tspan x="886.5" y="1352">исследование</tspan></text></g>
<g id="t29-1"><rect class="t" x="572" y="1379" width="55" height="18" rx="9"/><text class="s" x="599.5" y="1388">Осмотр</text></g>
<g id="t29-2"><rect class="t" x="632" y="1379" width="53" height="18" rx="9"/><text class="s" x="658.5" y="1388">ЭКГ</text></g>
<g id="t29-3"><rect class="t" x="692" y="1379" width="48" height="18" rx="9"/><text class="s" x="716" y="1388">Рентген</text></g>
<g id="t29-4"><rect class="t" x="748" y="1379" width="52" height="18" rx="9"/><text class="s" x="774" y="1388">ЭхоКГ</text></g>
<g id="t29-5"><rect class="t" x="807" y="1379" width="121" height="18" rx="9"/><text class="s" x="867.5" y="1388">Вентрикулярография</text></g>
<g id="t29-6"><rect class="t" x="933" y="1379" width="87" height="18" rx="9"/><text class="s" x="976.5" y="1388">Сцинтиграфия</text></g>
<g id="t29-7"><rect class="t" x="1029" y="1378" width="106" height="28" rx="12"/><text class="s"><tspan x="1082" y="1386.5">Радионуклидные</tspan><tspan x="1082" y="1397.5">методы</tspan></text></g>
<g id="t30-1"><rect class="t" x="563" y="1419" width="75" height="18" rx="9"/><text class="s" x="600.5" y="1428">Осмотр</text></g>
<g id="t30-2"><rect class="t" x="655" y="1419" width="43" height="18" rx="9"/><text class="s" x="676.5" y="1428">ЭКГ</text></g>
<g id="t30-3"><rect class="t" x="715" y="1419" width="72" height="18" rx="9"/><text class="s" x="751" y="1428">Рентген</text></g>
<g id="t30-4"><rect class="t" x="803" y="1419" width="57" height="18" rx="9"/><text class="s" x="831.5" y="1428">ЭхоКГ</text></g>
</svg>
